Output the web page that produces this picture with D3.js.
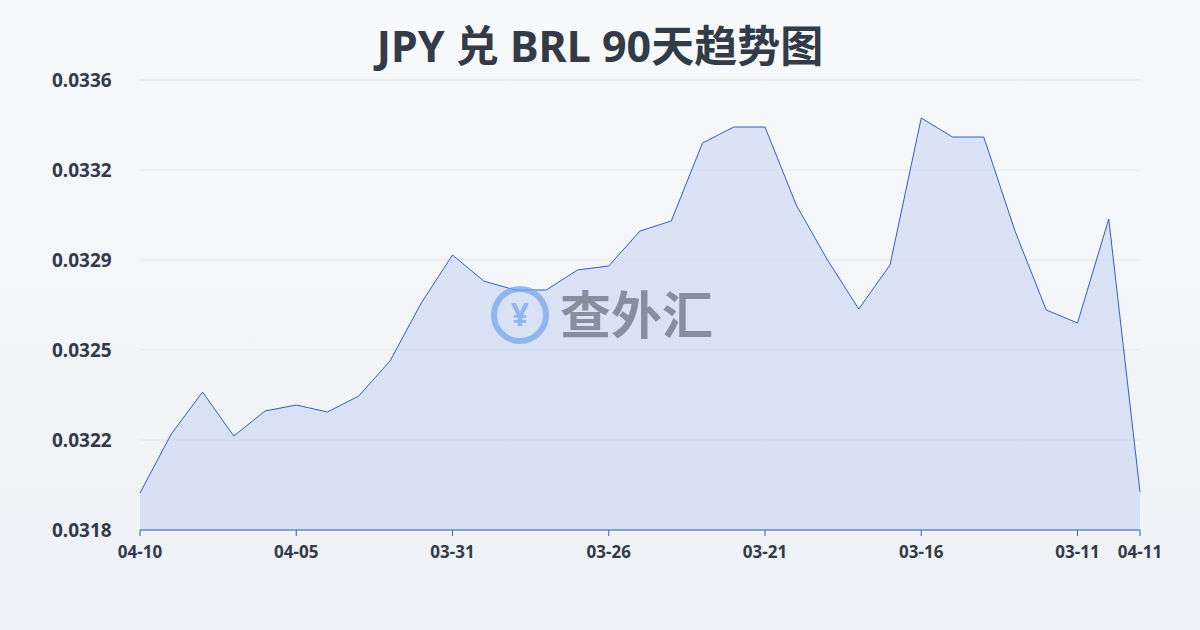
<!DOCTYPE html>
<html><head><meta charset="utf-8">
<script src="https://cdn.jsdelivr.net/npm/d3@7"></script>
<style>body{margin:0;background:#f3f5f8;font-family:"Noto Sans","Noto Sans CJK SC",sans-serif}</style>
</head><body><svg id="c" width="1200" height="630"></svg>
<script>
const values = [0.031948,0.032184,0.032352,0.032176,0.032276,0.0323,0.032272,0.032336,0.032476,0.032708,
  0.0329,0.032796,0.03276,0.03276,0.03284,0.032856,0.032996,0.033036,0.033348,0.033412,
  0.033412,0.0331,0.03288,0.032684,0.03286,0.033448,0.033372,0.033372,0.032996,0.03268,
  0.032628,0.033044,0.031952];
const tickIdx = [0,5,10,15,20,25,30,32];
const tickLabels = ["04-10","04-05","03-31","03-26","03-21","03-16","03-11","04-11"];
const yTicks = [0.0318,0.03216,0.03252,0.03288,0.03324,0.0336];

const svg = d3.select("#c");
const g0 = svg.append("defs").append("linearGradient").attr("id","bg").attr("x1",0).attr("x2",0).attr("y1",0).attr("y2",1);
g0.append("stop").attr("offset","0").attr("stop-color","#f8f9fb");
g0.append("stop").attr("offset","1").attr("stop-color","#eef1f5");
svg.append("rect").attr("width",1200).attr("height",630).attr("fill","url(#bg)");

const x = d3.scaleLinear().domain([0, values.length-1]).range([140,1140]);
const y = d3.scaleLinear().domain([0.0318,0.0336]).range([530,80]);

svg.append("text").attr("x",600).attr("y",62).attr("text-anchor","middle")
  .attr("font-size",43).attr("font-weight","bold").attr("fill","#333a48").text("JPY 兑 BRL 90天趋势图");

svg.append("g").selectAll("line").data(yTicks).join("line")
  .attr("x1",140).attr("x2",1140).attr("y1",d=>y(d)).attr("y2",d=>y(d))
  .attr("stroke","#e2e6ec");
svg.append("g").selectAll("text").data(yTicks).join("text")
  .attr("x",52).attr("y",d=>y(d)+7).attr("font-size",19).attr("font-weight","bold")
  .attr("fill","#333a48").text(d=>d3.format(".4f")(d));

svg.append("path").datum(values)
  .attr("d", d3.area().x((d,i)=>x(i)).y0(530).y1(d=>y(d)))
  .attr("fill","rgba(190,208,240,0.5)");
svg.append("path").datum(values)
  .attr("d", d3.line().x((d,i)=>x(i)).y(d=>y(d)))
  .attr("fill","none").attr("stroke","#2f5fc8").attr("stroke-width",1);

svg.append("line").attr("x1",140).attr("x2",1140).attr("y1",530).attr("y2",530).attr("stroke","#2f5fc8");
svg.append("g").selectAll("line").data(tickIdx).join("line")
  .attr("x1",d=>x(d)).attr("x2",d=>x(d)).attr("y1",530).attr("y2",536).attr("stroke","#2f5fc8");
svg.append("g").selectAll("text").data(tickIdx).join("text")
  .attr("x",d=>x(d)).attr("y",558).attr("text-anchor","middle").attr("font-size",17).attr("font-weight","bold")
  .attr("fill","#333a48").text((d,i)=>tickLabels[i]);

// watermark
const wm = svg.append("g").attr("opacity",0.75);
wm.append("circle").attr("cx",520).attr("cy",315).attr("r",26).attr("fill","none").attr("stroke","#7aa7ee").attr("stroke-width",6);
wm.append("text").attr("x",520).attr("y",326).attr("text-anchor","middle").attr("font-size",32).attr("font-weight","bold").attr("fill","#7aa7ee").text("¥");
wm.append("text").attr("x",560).attr("y",334).attr("font-size",51).attr("font-weight","bold").attr("fill","#6d7380").text("查外汇");
</script></body></html>
